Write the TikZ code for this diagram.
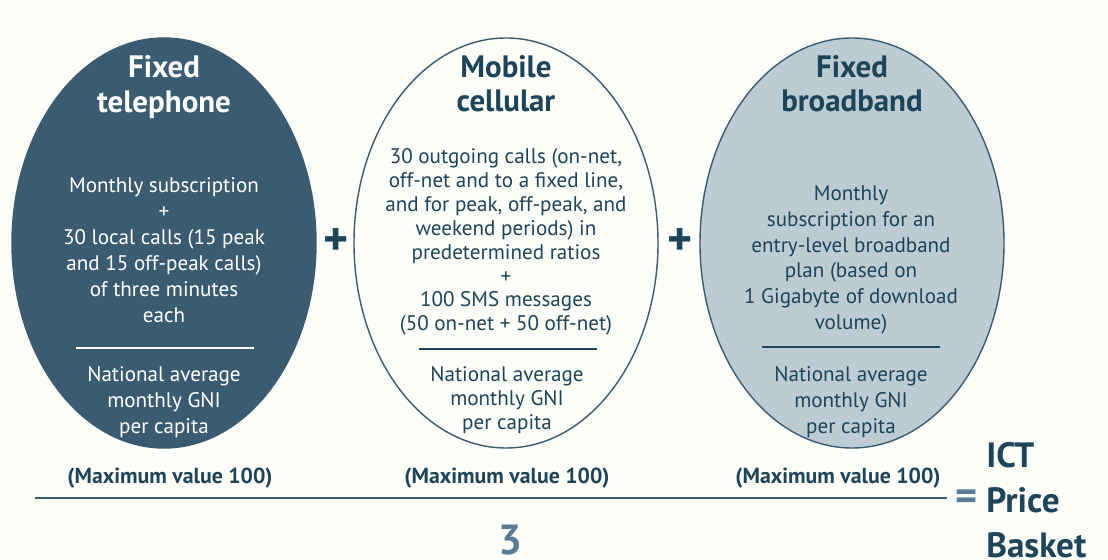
\documentclass[tikz,border=0pt]{standalone}
\usepackage{fontspec}
\setmainfont{PT Sans}
\usetikzlibrary{shapes.geometric}
\definecolor{basketdark}{HTML}{3B5C70}
\definecolor{basketnavy}{HTML}{1D4458}
\definecolor{basketlight}{HTML}{BDCBD3}
\definecolor{basketmid}{HTML}{587C94}
\definecolor{basketbg}{HTML}{FDFDF9}
\tikzset{
    % the three sub-baskets
    basket/.style={
        ellipse,
        minimum width=7.6cm,
        minimum height=10.25cm,
        inner sep=0pt,
        line width=1pt
    },
    % basket titles
    baskettitle/.style={
        font=\fontsize{22}{24.5}\selectfont\bfseries,
        align=center
    },
    % body text inside the ellipses
    basketbody/.style={
        font=\fontsize{15}{18.4}\selectfont,
        align=center
    },
    % white or navy bar of the inner fractions
    fracbar/.style={
        line width=1.2pt
    },
    % the big operators between the baskets
    bigplus/.style={
        font=\fontsize{34}{34}\selectfont\bfseries,
        text=basketnavy
    },
    maxlabel/.style={
        font=\fontsize{15.5}{18}\selectfont\bfseries,
        text=basketnavy
    }
}

\begin{document}
\begin{tikzpicture}

    % --- 0. Canvas ---
    \fill[basketbg] (0,0) rectangle (27.7,14);
    \useasboundingbox (0,0) rectangle (27.7,14);

    % --- 1. The three ellipses ---
    \node[basket, fill=basketdark, draw=basketdark] (fixed) at (4.1, 7.925) {};
    \node[basket, fill=basketbg, draw=basketdark]   (mobile) at (12.65, 7.925) {};
    \node[basket, fill=basketlight, draw=basketdark] (broad) at (21.3, 7.925) {};

    % --- 2. Fixed telephone ---
    \node[baskettitle, text=white] (fixedtitle) at (4.1, 11.82) {Fixed\\telephone};
    \node[basketbody, text=white] (fixedbody) at (4.1, 7.75)
        {Monthly subscription\\+\\30 local calls (15 peak\\and 15 off-peak calls)\\of three minutes\\each};
    \coordinate (fixedbarL) at (1.9, 5.3);
    \coordinate (fixedbarR) at (6.35, 5.3);
    \draw[fracbar, white] (fixedbarL) -- (fixedbarR);
    \node[basketbody, text=white] (fixedgni) at (4.1, 3.95)
        {National average\\monthly GNI\\per capita};

    % --- 3. Mobile cellular ---
    \node[baskettitle, text=basketnavy] (mobiletitle) at (12.65, 11.9) {Mobile\\cellular};
    \node[basketbody, text=basketnavy, font=\fontsize{15}{17}\selectfont] (mobilebody) at (12.65, 7.95)
        {30 outgoing calls (on-net,\\off-net and to a fixed line,\\and for peak, off-peak, and\\weekend periods) in\\predetermined ratios\\+\\100 SMS messages\\(50 on-net + 50 off-net)};
    \coordinate (mobilebarL) at (10.475, 5.275);
    \coordinate (mobilebarR) at (14.925, 5.275);
    \draw[fracbar, basketnavy] (mobilebarL) -- (mobilebarR);
    \node[basketbody, text=basketnavy, font=\fontsize{15}{17}\selectfont] (mobilegni) at (12.675, 4.0)
        {National average\\monthly GNI\\per capita};

    % --- 4. Fixed broadband ---
    \node[baskettitle, text=basketnavy] (broadtitle) at (21.3, 11.9) {Fixed\\broadband};
    \node[basketbody, text=basketnavy] (broadbody) at (21.275, 7.5)
        {Monthly\\subscription for an\\entry-level broadband\\plan (based on\\1 Gigabyte of download\\volume)};
    \coordinate (broadbarL) at (19.05, 5.325);
    \coordinate (broadbarR) at (23.5, 5.325);
    \draw[fracbar, basketnavy] (broadbarL) -- (broadbarR);
    \node[basketbody, text=basketnavy] (broadgni) at (21.275, 3.95)
        {National average\\monthly GNI\\per capita};

    % --- 5. Operators, maxima and the big fraction ---
    \node[bigplus] (plusA) at (8.4, 7.95) {+};
    \node[bigplus] (plusB) at (17.0, 7.95) {+};

    \node[maxlabel] (maxfixed)  at (4.25, 2.05)  {(Maximum value 100)};
    \node[maxlabel] (maxmobile) at (12.675, 2.05) {(Maximum value 100)};
    \node[maxlabel] (maxbroad)  at (20.95, 2.05) {(Maximum value 100)};

    \coordinate (fracL) at (0.875, 1.55);
    \coordinate (fracR) at (23.675, 1.55);
    \draw[line width=1.6pt, basketdark] (fracL) -- (fracR);

    \node[font=\fontsize{30}{30}\selectfont\bfseries, text=basketmid, inner sep=0pt] (three) at (12.75, 0.5) {3};
    \node[font=\fontsize{30}{30}\selectfont\bfseries, text=basketmid] (equals) at (24.175, 1.5) {=};
    \node[font=\fontsize{25}{32}\selectfont\bfseries, text=basketnavy, align=left, anchor=west, inner sep=0pt]
        (ictbasket) at (24.65, 1.5) {ICT\\Price\\Basket};

\end{tikzpicture}
\end{document}
